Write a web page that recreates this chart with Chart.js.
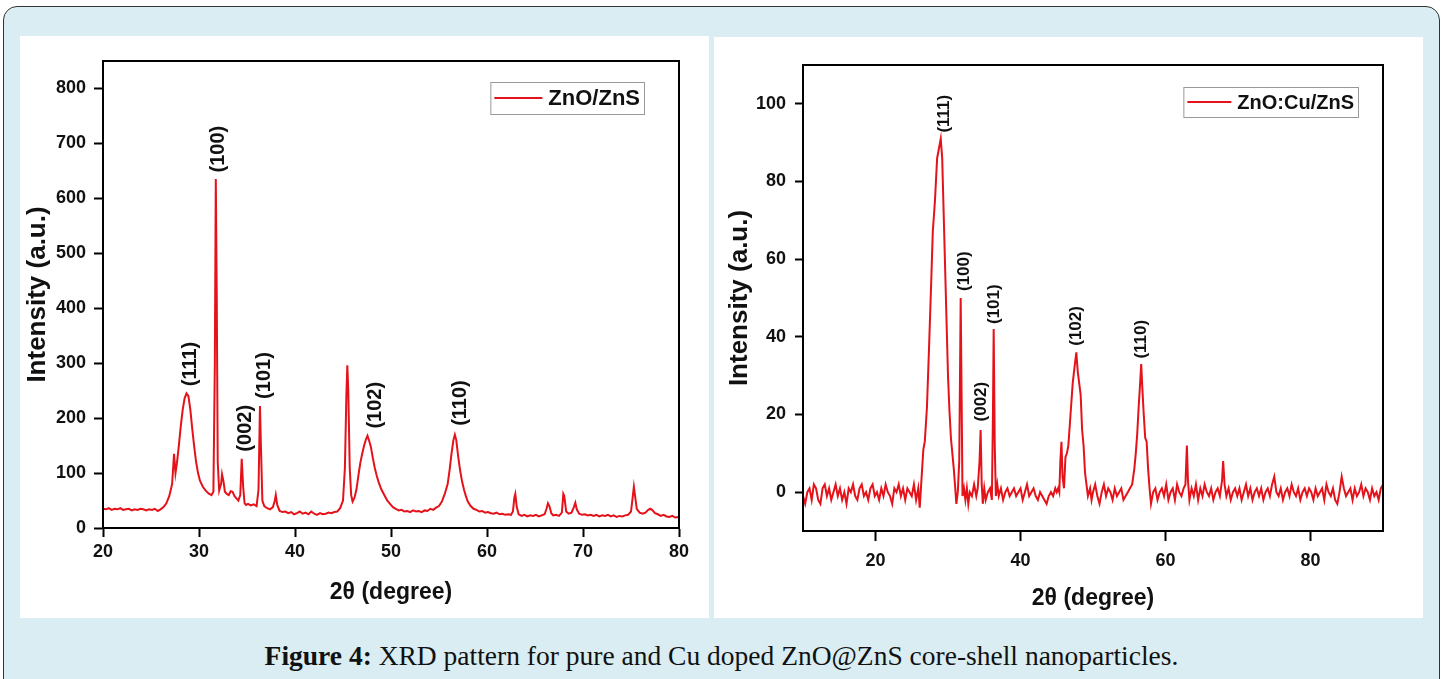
<!DOCTYPE html>
<html>
<head>
<meta charset="utf-8">
<script src="https://cdn.jsdelivr.net/npm/chart.js@4.4.1/dist/chart.umd.min.js"></script>
<style>
  body { margin: 0; width: 1443px; height: 679px; overflow: hidden; background: #fff; position: relative; }
  .frame { position: absolute; left: 3px; top: 6px; width: 1435px; height: 700px; background: #d9edf2; border: 1.5px solid #333; border-radius: 14px; }
  .panel { position: absolute; background: #fff; }
  .caption { position: absolute; left: 0; top: 640px; width: 1443px; text-align: center; font-family: "Liberation Serif", serif; font-size: 27.5px; color: #111; }
</style>
</head>
<body>
<div class="frame"></div>
<div class="panel" style="left:20px; top:36px; width:689px; height:582px;">
  <canvas id="chartZnS" width="689" height="582"></canvas>
</div>
<div class="panel" style="left:714px; top:37px; width:709px; height:581px;">
  <canvas id="chartCu" width="709" height="581"></canvas>
</div>
<div class="caption"><b>Figure 4:</b> XRD pattern for pure and Cu doped ZnO@ZnS core-shell nanoparticles.</div>

<script>
// ---- ZnO/ZnS (left panel) ----
const znsTheta = [
  20.0, 20.3, 20.6, 20.9, 21.2, 21.5, 21.8, 22.1, 22.4, 22.7, 23.0, 23.3, 23.6, 23.9, 24.2, 24.5, 24.8, 25.1, 25.4, 25.7,
  26.0, 26.3, 26.6, 26.9, 27.2, 27.4, 27.55, 27.7, 27.9, 28.1, 28.3, 28.5, 28.7, 28.9, 29.1, 29.3, 29.5, 29.7, 29.9, 30.1,
  30.4, 30.7, 31.0, 31.3, 31.5, 31.65, 31.75, 31.85, 31.95, 32.1, 32.3, 32.4, 32.55, 32.7, 32.9, 33.1, 33.3, 33.5, 33.7, 33.9,
  34.1, 34.3, 34.45, 34.6, 34.75, 34.9, 35.1, 35.4, 35.7, 36.0, 36.2, 36.35, 36.45, 36.6, 36.8, 37.1, 37.4, 37.7, 37.9, 38.0,
  38.15, 38.4, 38.7, 39.0, 39.3, 39.6, 39.9, 40.2, 40.5, 40.8, 41.1, 41.4, 41.7, 42.0, 42.3, 42.6, 42.9, 43.2, 43.5, 43.8,
  44.1, 44.4, 44.7, 45.0, 45.2, 45.35, 45.45, 45.55, 45.7, 45.85, 46.0, 46.2, 46.4, 46.6, 46.8, 47.0, 47.2, 47.4, 47.55, 47.7,
  47.9, 48.1, 48.3, 48.5, 48.7, 49.0, 49.3, 49.6, 49.9, 50.2, 50.5, 50.8, 51.1, 51.4, 51.7, 52.0, 52.3, 52.6, 52.9, 53.2,
  53.5, 53.8, 54.1, 54.4, 54.7, 55.0, 55.3, 55.6, 55.9, 56.1, 56.3, 56.5, 56.65, 56.8, 57.0, 57.2, 57.4, 57.6, 57.8, 58.0,
  58.3, 58.6, 58.9, 59.2, 59.5, 59.8, 60.1, 60.4, 60.7, 61.0, 61.3, 61.6, 61.9, 62.2, 62.5, 62.7, 62.85, 62.95, 63.1, 63.3,
  63.6, 63.9, 64.2, 64.5, 64.8, 65.1, 65.4, 65.7, 66.0, 66.2, 66.35, 66.5, 66.7, 66.9, 67.2, 67.5, 67.8, 67.95, 68.05, 68.25,
  68.5, 68.8, 69.05, 69.2, 69.35, 69.6, 69.9, 70.2, 70.5, 70.8, 71.1, 71.4, 71.7, 72.0, 72.3, 72.6, 72.9, 73.2, 73.5, 73.8,
  74.1, 74.4, 74.7, 75.0, 75.15, 75.3, 75.45, 75.6, 75.9, 76.2, 76.5, 76.8, 77.0, 77.2, 77.5, 77.8, 78.1, 78.4, 78.7, 79.0,
  79.3, 79.6, 79.9, 80.0
];
const znsIntensity = [
  35, 34, 36, 33, 35, 34, 36, 33, 34, 35, 32, 34, 33, 35, 34, 32, 34, 33, 35, 31,
  34, 38, 45, 58, 80, 135, 100, 118, 150, 185, 215, 236, 245, 240, 215, 180, 148, 120, 100, 86,
  75, 68, 63, 60, 66, 300, 635, 420, 120, 68, 80, 98, 85, 66, 62, 60, 67, 66, 58, 54,
  50, 60, 126, 75, 45, 42, 44, 41, 43, 40, 70, 222, 150, 50, 40, 36, 34, 38, 50, 60,
  42, 31, 29, 30, 27, 29, 25, 27, 30, 26, 28, 25, 30, 26, 24, 27, 25, 26, 28, 27,
  29, 30, 36, 50, 110, 240, 296, 250, 110, 60, 48, 55, 70, 95, 118, 135, 150, 162, 168, 160,
  148, 128, 110, 96, 84, 70, 60, 50, 44, 38, 35, 32, 33, 30, 31, 29, 32, 30, 31, 29,
  32, 31, 35, 33, 37, 40, 48, 62, 80, 105, 135, 160, 170, 160, 130, 105, 85, 70, 58, 48,
  40, 35, 33, 30, 31, 28, 29, 27, 26, 28, 25, 26, 24, 25, 24, 30, 55, 62, 38, 25,
  22, 24, 21, 23, 22, 24, 21, 23, 25, 35, 45, 40, 27, 23, 24, 22, 28, 62, 58, 30,
  26, 28, 38, 46, 34, 26, 24, 25, 23, 24, 22, 24, 21, 23, 22, 24, 21, 23, 20, 22,
  21, 23, 24, 30, 52, 75, 55, 35, 28, 26, 28, 33, 35, 33, 27, 25, 22, 24, 21, 20,
  22, 19, 20, 19
];
const znsXTicks = [20, 30, 40, 50, 60, 70, 80];
const znsYTicks = [0, 100, 200, 300, 400, 500, 600, 700, 800];
const znsPeakNames = ['(111)', '(100)', '(002)', '(101)', '(102)', '(110)'];
const znsPeakTheta = [29.1, 32.0, 34.8, 36.8, 48.4, 57.2];
const znsPeakLabelY = [258, 647, 139, 235, 181, 186];

// ---- ZnO:Cu/ZnS (right panel) ----
const cuTheta = [
  10.0, 10.3, 10.6, 10.9, 11.2, 11.5, 11.8, 12.1, 12.4, 12.7, 13.0, 13.3, 13.6, 13.9, 14.2, 14.5, 14.8, 15.1, 15.4, 15.7,
  16.0, 16.3, 16.6, 16.9, 17.2, 17.5, 17.8, 18.1, 18.4, 18.7, 19.0, 19.3, 19.6, 19.9, 20.2, 20.5, 20.8, 21.1, 21.4, 21.7,
  22.0, 22.3, 22.6, 22.9, 23.2, 23.5, 23.8, 24.1, 24.4, 24.7, 25.0, 25.3, 25.6, 25.9, 26.1, 26.3, 26.6, 26.8, 27.1, 27.4,
  27.7, 27.9, 28.2, 28.5, 28.8, 29.0, 29.2, 29.4, 29.6, 29.8, 30.0, 30.2, 30.4, 30.6, 30.8, 31.0, 31.15, 31.35, 31.55, 31.75,
  31.9, 32.0, 32.2, 32.4, 32.6, 32.8, 33.0, 33.3, 33.6, 33.9, 34.1, 34.35, 34.5, 34.65, 34.8, 35.0, 35.2, 35.5, 35.8, 36.05,
  36.2, 36.3, 36.45, 36.6, 36.8, 37.0, 37.3, 37.6, 37.9, 38.2, 38.5, 38.8, 39.1, 39.4, 39.7, 40.0, 40.3, 40.6, 40.9, 41.2,
  41.5, 41.8, 42.1, 42.4, 42.7, 43.0, 43.3, 43.6, 43.9, 44.2, 44.5, 44.8, 45.0, 45.2, 45.35, 45.5, 45.65, 45.8, 46.0, 46.2,
  46.4, 46.6, 46.9, 47.2, 47.5, 47.7, 47.9, 48.1, 48.3, 48.5, 48.7, 48.9, 49.1, 49.3, 49.6, 49.8, 50.0, 50.3, 50.6, 50.9,
  51.2, 51.5, 51.8, 52.1, 52.4, 52.7, 53.0, 53.3, 53.6, 53.9, 54.2, 54.5, 54.8, 55.1, 55.4, 55.7, 55.9, 56.1, 56.3, 56.5,
  56.65, 56.8, 57.0, 57.2, 57.4, 57.6, 57.8, 58.0, 58.3, 58.6, 58.9, 59.2, 59.5, 59.8, 60.1, 60.4, 60.7, 61.0, 61.3, 61.6,
  61.9, 62.2, 62.5, 62.75, 62.95, 63.1, 63.3, 63.6, 63.9, 64.2, 64.5, 64.8, 65.1, 65.4, 65.7, 66.0, 66.3, 66.6, 66.9, 67.2,
  67.5, 67.8, 67.95, 68.15, 68.4, 68.7, 69.0, 69.3, 69.6, 69.9, 70.2, 70.5, 70.8, 71.1, 71.4, 71.7, 72.0, 72.3, 72.6, 72.9,
  73.2, 73.5, 73.8, 74.1, 74.4, 74.7, 75.0, 75.3, 75.6, 75.9, 76.2, 76.5, 76.8, 77.1, 77.4, 77.7, 78.0, 78.3, 78.6, 78.9,
  79.2, 79.5, 79.8, 80.1, 80.4, 80.7, 81.0, 81.3, 81.6, 81.9, 82.2, 82.5, 82.8, 83.1, 83.4, 83.7, 84.0, 84.3, 84.6, 84.9,
  85.2, 85.5, 85.8, 86.1, 86.4, 86.7, 87.0, 87.3, 87.6, 87.9, 88.2, 88.5, 88.8, 89.1, 89.4, 89.7, 90.0
];
const cuIntensity = [
  -1, -3, 0, 1, -2, 2, 1, -2, -3, 1, 2, -1, 1, -2, 0, 2, -1, 1, -2, 0,
  -3, 1, 0, 2, -1, -2, 1, 2, -1, 0, -2, 1, 2, -1, 0, -2, 1, -1, 2, 0,
  -1, -3, 1, 0, 2, -1, 1, -2, 1, 0, -1, 2, -2, 1, -4, 2, 11, 13, 22, 38,
  55, 67, 75, 86, 89, 91, 86, 72, 58, 44, 30, 21, 14, 10, 6, 1, -3, 0, 8, 50,
  20, -1, 1, -2, 1, -3, 0, -1, 2, -1, 1, 8, 16, 2, -3, 1, -2, 0, 1, -2,
  20, 42, 12, -1, 2, -1, 1, -2, 0, 1, -1, 0, 1, -1, 0, 1, -2, 0, 2, -1,
  0, 1, -1, -2, 0, -1, -2, -3, -1, 0, -1, 1, 0, 1, 0, 8, 13, 4, 1, 9,
  10, 12, 20, 28, 33, 36, 31, 28, 25, 16, 12, 5, 2, -1, 1, -2, 0, 2, -1, -3,
  0, 2, -1, 1, 0, -2, 1, -1, 0, 1, -2, -1, 0, 1, 2, 6, 10, 15, 22, 28,
  33, 27, 20, 14, 13, 6, 1, -3, 0, 1, -2, 0, 1, -1, 2, -2, 0, 1, -2, 2,
  0, -1, 1, 2, 12, 3, -2, 1, -1, 2, -2, 1, -1, 2, 0, -1, 1, -2, 0, 1,
  -1, 3, 8, 2, -1, 1, -2, 0, 1, -1, 1, -2, 0, 2, -1, 1, -2, 0, 1, -1,
  1, -2, 0, 1, -1, 2, 4, 0, -1, 1, -2, 0, 1, -1, 2, 0, -1, 1, -2, 0,
  1, -1, 1, 0, -2, 1, -1, 0, 1, -2, 2, 0, -1, 1, -2, -3, 0, 4, 1, -1,
  0, 1, -2, 1, -1, 0, 2, -1, 1, 0, -2, 1, -1, 0, -2, 1, 2
];
const cuXTicks = [20, 40, 60, 80];
const cuYTicks = [0, 20, 40, 60, 80, 100];
const cuPeakNames = ['(111)', '(100)', '(002)', '(101)', '(102)', '(110)'];
const cuPeakTheta = [29.5, 32.2, 34.6, 36.4, 47.7, 56.7];
const cuPeakLabelY = [92.6, 51.8, 18.2, 43.3, 37.7, 34.4];

const RED = '#e5121a';
const SANS = '"Liberation Sans", Arial, sans-serif';

// box around the plot area + inset legend + peak indices
const decorPlugin = {
  id: 'decor',
  afterDraw(chart, args, opts) {
    const { ctx, chartArea: a, scales } = chart;
    ctx.save();
    ctx.strokeStyle = '#000';
    ctx.lineWidth = 2;
    ctx.strokeRect(a.left, a.top, a.right - a.left, a.bottom - a.top);

    // peak labels, rotated
    ctx.fillStyle = '#111';
    ctx.font = 'bold ' + opts.peakFont + 'px ' + SANS;
    ctx.textAlign = 'left';
    ctx.textBaseline = 'middle';
    opts.names.forEach((name, i) => {
      const px = scales.x.getPixelForValue(opts.theta[i]);
      const py = scales.y.getPixelForValue(opts.labelY[i]);
      ctx.save();
      ctx.translate(px, py);
      ctx.rotate(-Math.PI / 2);
      ctx.fillText(name, 0, 0);
      ctx.restore();
    });

    // legend
    const ds = chart.data.datasets[0];
    ctx.font = 'bold ' + opts.legendFont + 'px ' + SANS;
    const tw = ctx.measureText(ds.label).width;
    const w = opts.legendLine + 14 + tw;
    const h = opts.legendFont + 10;
    const x0 = a.right - opts.legendRight - w;
    const y0 = a.top + opts.legendTop;
    ctx.fillStyle = '#fff';
    ctx.fillRect(x0, y0, w, h);
    ctx.strokeStyle = '#999';
    ctx.lineWidth = 1;
    ctx.strokeRect(x0 + 0.5, y0 + 0.5, w, h);
    ctx.strokeStyle = ds.borderColor;
    ctx.lineWidth = 2;
    ctx.beginPath();
    ctx.moveTo(x0 + 4, y0 + h / 2);
    ctx.lineTo(x0 + 4 + opts.legendLine, y0 + h / 2);
    ctx.stroke();
    ctx.fillStyle = '#111';
    ctx.textBaseline = 'middle';
    ctx.fillText(ds.label, x0 + opts.legendLine + 10, y0 + h / 2 + 1);
    ctx.restore();
  }
};

function makeChart(id, cfg) {
  const points = cfg.theta.map((t, i) => ({ x: t, y: cfg.intensity[i] }));
  return new Chart(document.getElementById(id), {
    type: 'line',
    data: {
      datasets: [{
        label: cfg.label,
        data: points,
        borderColor: RED,
        borderWidth: 2,
        pointRadius: 0,
        tension: 0,
        fill: false
      }]
    },
    options: {
      responsive: false,
      animation: false,
      layout: { padding: cfg.padding },
      plugins: {
        legend: { display: false },
        tooltip: { enabled: false },
        decor: {
          names: cfg.peakNames, theta: cfg.peakTheta, labelY: cfg.peakLabelY,
          peakFont: cfg.peakFont, legendFont: cfg.legendFont, legendLine: cfg.legendLine,
          legendRight: cfg.legendRight, legendTop: cfg.legendTop
        }
      },
      scales: {
        x: {
          type: 'linear',
          min: cfg.xMin, max: cfg.xMax,
          afterBuildTicks: (s) => { s.ticks = cfg.xTicks.map(v => ({ value: v })); },
          afterFit: (s) => { s.height = cfg.xAxisHeight; },
          grid: { drawOnChartArea: false, tickLength: cfg.xTickLen, tickColor: '#000', tickWidth: 2 },
          border: { display: true, color: '#000', width: 2 },
          ticks: { color: '#111', padding: cfg.xTickPad, maxRotation: 0, font: { family: SANS, size: 18, weight: 'bold' } },
          title: { display: true, text: '2θ (degree)', color: '#111', padding: { top: 0, bottom: cfg.xTitlePad }, font: { family: SANS, size: 23, weight: 'bold' } }
        },
        y: {
          min: cfg.yMin, max: cfg.yMax,
          afterBuildTicks: (s) => { s.ticks = cfg.yTicks.map(v => ({ value: v })); },
          afterFit: (s) => { s.width = cfg.yAxisWidth; },
          grid: { drawOnChartArea: false, tickLength: cfg.yTickLen, tickColor: '#000', tickWidth: 2 },
          border: { display: true, color: '#000', width: 2 },
          ticks: { color: '#111', padding: cfg.yTickPad, font: { family: SANS, size: 18, weight: 'bold' } },
          title: { display: true, text: 'Intensity (a.u.)', color: '#111', padding: { top: cfg.yTitlePad, bottom: 0 }, font: { family: SANS, size: 26, weight: 'bold' } }
        }
      }
    },
    plugins: [decorPlugin]
  });
}

makeChart('chartZnS', {
  label: 'ZnO/ZnS', theta: znsTheta, intensity: znsIntensity,
  xMin: 20, xMax: 80, yMin: 0, yMax: 850, xTicks: znsXTicks, yTicks: znsYTicks,
  peakNames: znsPeakNames, peakTheta: znsPeakTheta, peakLabelY: znsPeakLabelY,
  padding: { left: 0, top: 25, right: 30, bottom: 0 },
  xAxisHeight: 90, yAxisWidth: 83,
  xTickLen: 9, xTickPad: 4, yTickLen: 9, yTickPad: 8,
  xTitlePad: 12, yTitlePad: 2,
  peakFont: 20, legendFont: 22, legendLine: 48, legendRight: 35, legendTop: 21
});

makeChart('chartCu', {
  label: 'ZnO:Cu/ZnS', theta: cuTheta, intensity: cuIntensity,
  xMin: 10, xMax: 90, yMin: -10, yMax: 110, xTicks: cuXTicks, yTicks: cuYTicks,
  peakNames: cuPeakNames, peakTheta: cuPeakTheta, peakLabelY: cuPeakLabelY,
  padding: { left: 0, top: 28, right: 40, bottom: 0 },
  xAxisHeight: 87, yAxisWidth: 89,
  xTickLen: 10, xTickPad: 9, yTickLen: 8, yTickPad: 9,
  xTitlePad: 6, yTitlePad: 10,
  peakFont: 17, legendFont: 20, legendLine: 44, legendRight: 25, legendTop: 22
});
</script>
</body>
</html>
